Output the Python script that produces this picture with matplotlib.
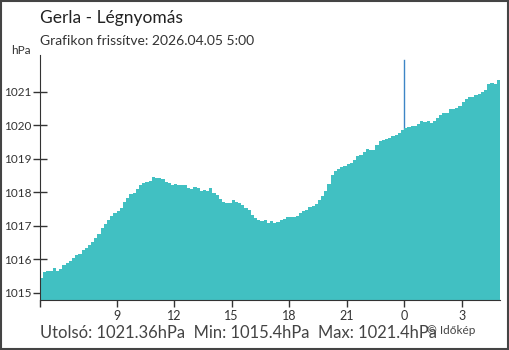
import numpy as np
import matplotlib
matplotlib.use('Agg')
import matplotlib.pyplot as plt
from matplotlib.patches import Rectangle

# legnyomas 10 percenkent, 04.04 5:00 - 04.05 5:00
pressure = [
    1015.45, 1015.62, 1015.66, 1015.64, 1015.75, 1015.66, 1015.72, 1015.84, 1015.90, 1015.95,
    1016.02, 1016.12, 1016.14, 1016.27, 1016.32, 1016.42, 1016.52, 1016.62, 1016.76, 1016.92,
    1017.05, 1017.16, 1017.30, 1017.38, 1017.43, 1017.52, 1017.70, 1017.84, 1017.94, 1017.99,
    1018.10, 1018.22, 1018.28, 1018.32, 1018.35, 1018.45, 1018.42, 1018.42, 1018.40, 1018.32,
    1018.27, 1018.22, 1018.24, 1018.22, 1018.23, 1018.21, 1018.13, 1018.09, 1018.17, 1018.12,
    1018.04, 1018.06, 1018.04, 1018.12, 1017.98, 1017.92, 1017.80, 1017.72, 1017.69, 1017.68,
    1017.76, 1017.70, 1017.68, 1017.62, 1017.53, 1017.47, 1017.33, 1017.22, 1017.16, 1017.14,
    1017.18, 1017.09, 1017.13, 1017.09, 1017.12, 1017.17, 1017.19, 1017.26, 1017.25, 1017.25,
    1017.28, 1017.38, 1017.45, 1017.47, 1017.56, 1017.58, 1017.65, 1017.77, 1017.90, 1018.05,
    1018.26, 1018.50, 1018.64, 1018.70, 1018.75, 1018.78, 1018.83, 1018.88, 1018.97, 1019.07,
    1019.12, 1019.20, 1019.28, 1019.26, 1019.27, 1019.42, 1019.52, 1019.55, 1019.58, 1019.62,
    1019.69, 1019.72, 1019.78, 1019.86, 1019.93, 1019.96, 1019.97, 1019.98, 1020.04, 1020.13,
    1020.10, 1020.14, 1020.07, 1020.13, 1020.22, 1020.30, 1020.37, 1020.38, 1020.50, 1020.49,
    1020.52, 1020.57, 1020.70, 1020.80, 1020.86, 1020.85, 1020.91, 1020.92, 1020.98, 1021.06,
    1021.22, 1021.25, 1021.22, 1021.36,
]
step_h = 10 / 60          # 10 perc orakban
tick_hours = [0, 4, 7, 10, 13, 16, 19, 22]
tick_labels = ['', '9', '12', '15', '18', '21', '0', '3']
y_ticks = [1015, 1016, 1017, 1018, 1019, 1020, 1021]
midnight = 19

title = 'Gerla - Légnyomás'
subtitle = 'Grafikon frissítve: 2026.04.05 5:00'
footer = 'Utolsó: 1021.36hPa  Min: 1015.4hPa  Max: 1021.4hPa'

plt.rcParams['font.family'] = ['Lato', 'DejaVu Sans']
fig = plt.figure(figsize=(5.1, 3.5), dpi=100)
ax = fig.add_axes([40/510, 50/350, 460/510, 245/350])

x = np.arange(len(pressure)) * step_h
ax.bar(x, pressure, width=step_h, align='edge', color='#41c0c2', zorder=3, linewidth=0)
ax.axvline(midnight, color='#3d85c6', lw=1, ymax=0.98, zorder=1)

ax.set_xlim(0, 24)
ax.set_ylim(1014.78, 1022.1)
ax.set_xticks(tick_hours)
ax.set_xticklabels(tick_labels, fontsize=9, color='#333333')
ax.set_yticks(y_ticks)
ax.set_yticklabels([str(v) for v in y_ticks], fontsize=8.5, color='#333333')
ax.tick_params(axis='y', direction='inout', length=10, width=1, color='#333333', pad=1)
ax.tick_params(axis='x', direction='out', length=5, width=1, color='#333333', pad=2)
ax.get_xticklines()[2 * 6].set_color('#3d85c6')
for s in ['top', 'right']:
    ax.spines[s].set_visible(False)
for s in ['left', 'bottom']:
    ax.spines[s].set_color('#333333')
    ax.spines[s].set_zorder(5)

fig.text(40/510, 1 - 18/350, title, fontsize=12.5, va='center', color='#222222')
fig.text(40/510, 1 - 41/350, subtitle, fontsize=10, va='center', color='#333333')
fig.text(11/510, 1 - 51/350, 'hPa', fontsize=8.5, va='center', color='#333333')
fig.text(40/510, 1 - 333/350, footer, fontsize=11.9, va='center', color='#444444')
fig.text(427/510, 1 - 330/350, '© Időkép', fontsize=8.5, va='center', color='#444444')

fig.patches.append(Rectangle((0.002, 0.003), 0.995, 0.994, transform=fig.transFigure,
                             fill=False, edgecolor='#444444', lw=1.5))

fig.savefig('out.png', dpi=100)
